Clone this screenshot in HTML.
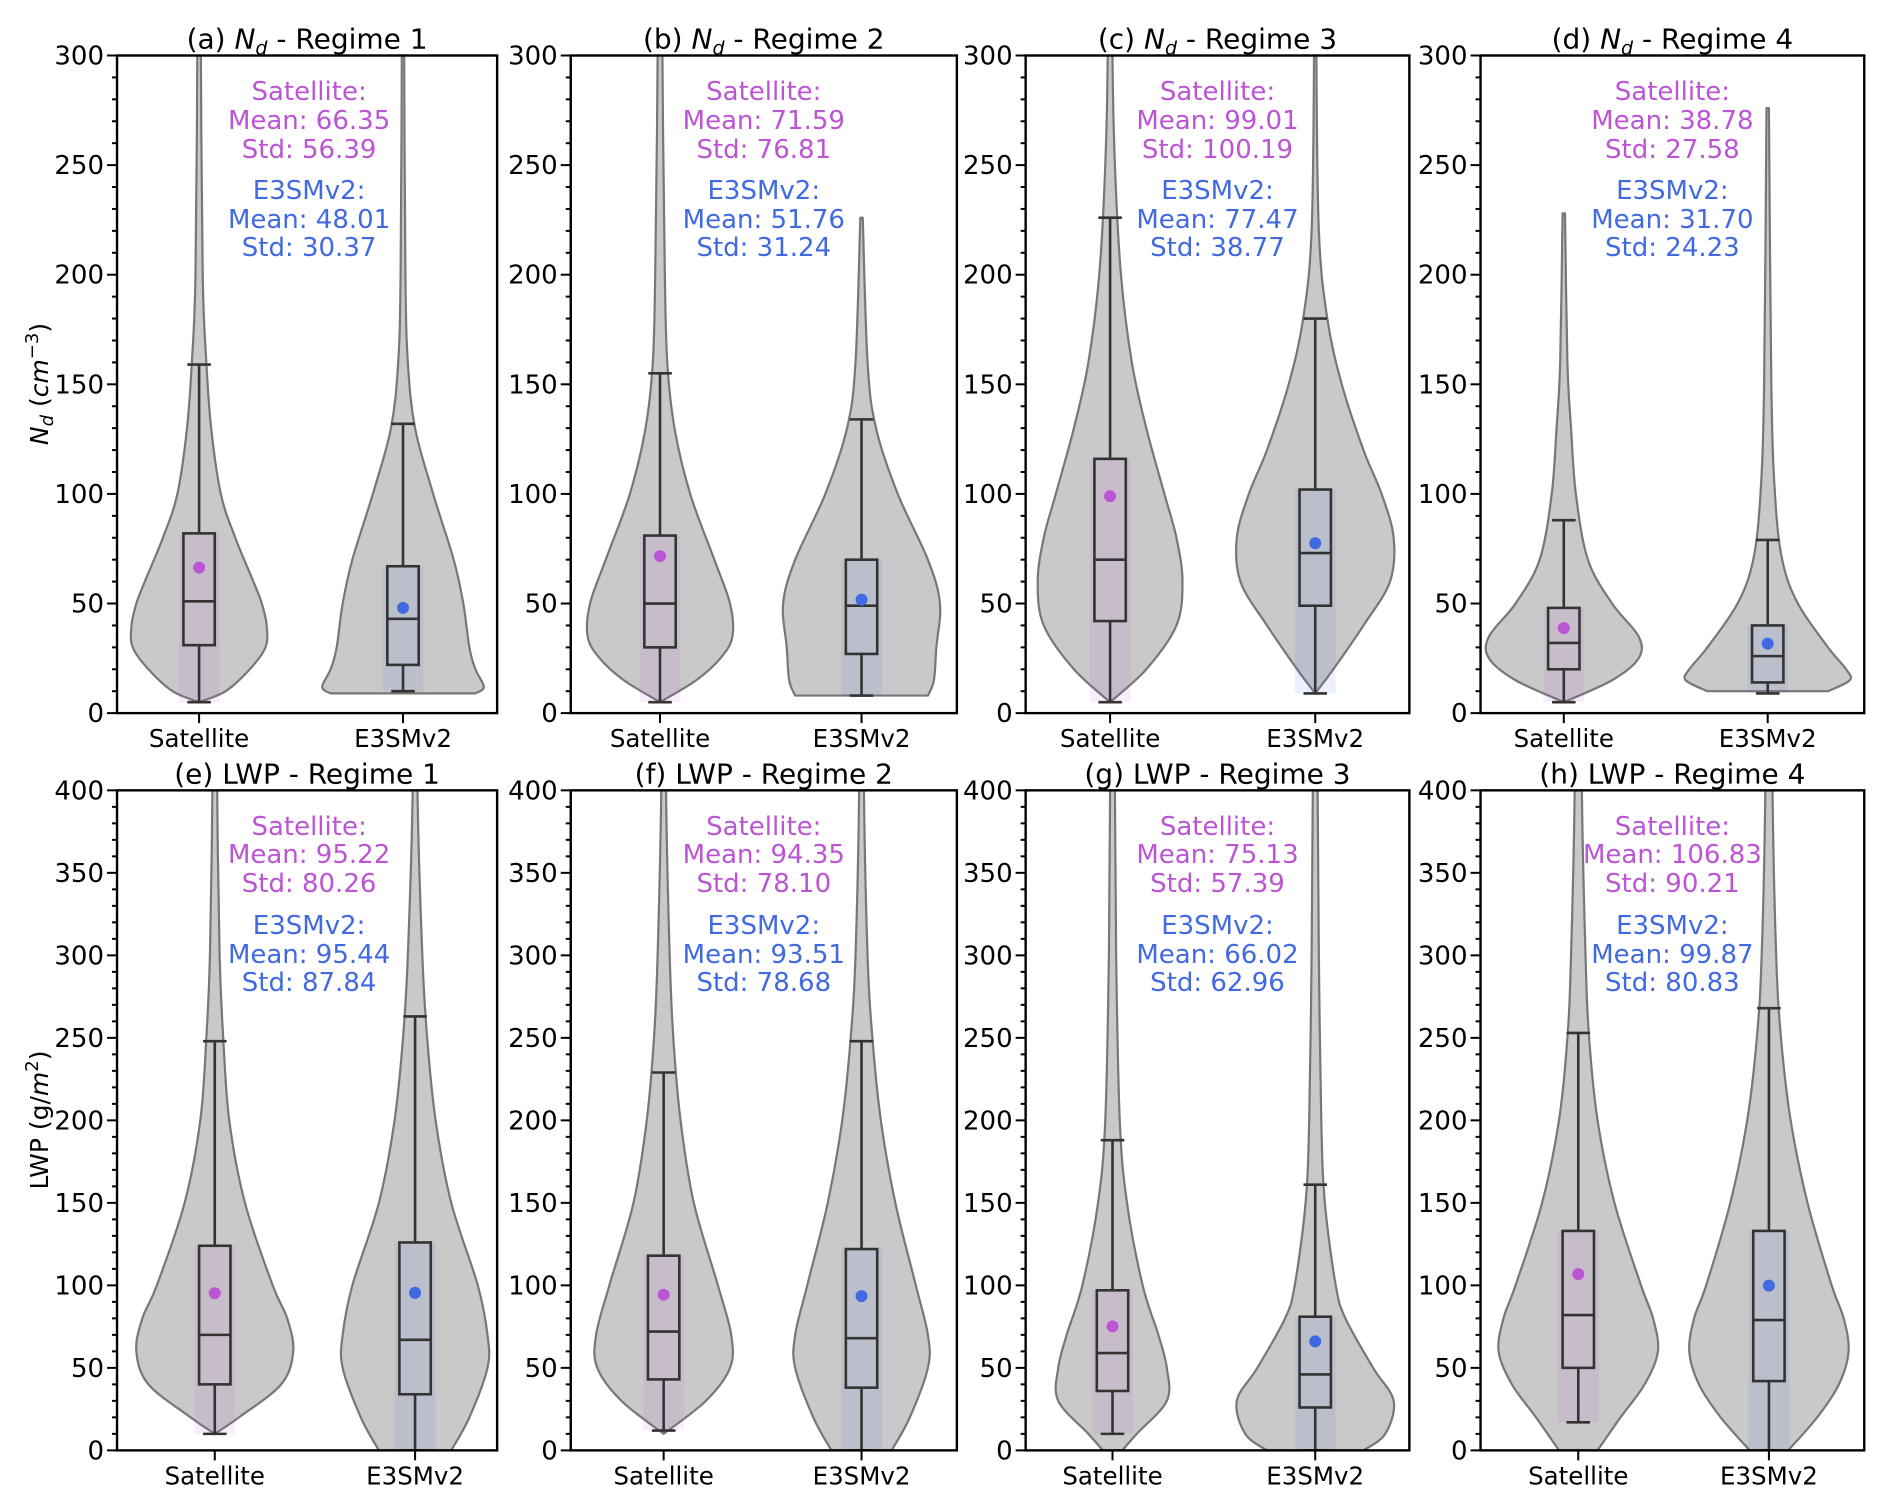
<!DOCTYPE html>
<html><head><meta charset="utf-8"><style>
html,body{margin:0;padding:0;background:#fff;}
svg text{font-family:"DejaVu Sans","Liberation Sans",sans-serif;}
</style></head><body>
<svg id="fig" width="1892" height="1507" viewBox="0 0 1892 1507" xmlns="http://www.w3.org/2000/svg"></svg>
<script>
// ---- data ----
const panelTitles = ["(a) N_d - Regime 1","(b) N_d - Regime 2","(c) N_d - Regime 3","(d) N_d - Regime 4",
  "(e) LWP - Regime 1","(f) LWP - Regime 2","(g) LWP - Regime 3","(h) LWP - Regime 4"];
const categories = ["Satellite","E3SMv2"];
const satMean = [66.35,71.59,99.01,38.78,95.22,94.35,75.13,106.83];
const satStd  = [56.39,76.81,100.19,27.58,80.26,78.10,57.39,90.21];
const modMean = [48.01,51.76,77.47,31.70,95.44,93.51,66.02,99.87];
const modStd  = [30.37,31.24,38.77,24.23,87.84,78.68,62.96,80.83];
// box stats: [low whisker, q1, median, q3, high whisker]
const satBox = [[5,31,51,82,159],[5,30,50,81,155],[5,42,70,116,226],[5,20,32,48,88],
  [10,40,70,124,248],[12,43,72,118,229],[10,36,59,97,188],[17,50,82,133,253]];
const modBox = [[10,22,43,67,132],[8,27,49,70,134],[9,49,73,102,180],[9,14,26,40,79],
  [0,34,67,126,263],[0,38,68,122,248],[0,26,46,81,161],[0,42,79,133,268]];
// violin profiles: values and relative half-widths
const satVals = [[5,10,20,30,40,50,60,80,100,130,160,200,300,400],[5,15,25,35,50,70,100,130,160,200,300,400],
  [5,20,40,60,80,100,130,160,200,250,300,400],[5,15,25,35,50,70,100,130,160,228],
  [10,20,40,60,80,100,150,200,250,300,400,500],[10,30,50,70,100,150,200,250,300,400,500],
  [0,10,30,50,70,100,150,200,300,400,500],[0,20,40,60,80,100,150,200,250,300,400,500]];
const satDens = [[0,22,42,55,56,52,45,30,18,10,6,3,1.5,1.5],[0,30,50,60,58,45,25,12,6,4,2,2],
  [0,30,55,60,55,45,30,18,9,4,2,2],[0,40,62,62,40,20,10,6,3,1],
  [0,20,55,65,60,48,25,12,7,4,2,2],[0,35,55,56,45,25,14,8,5,2,2],
  [8,20,45,45,38,25,12,6,3,2,2],[16,35,55,66,62,52,30,16,9,6,3,3]];
const modVals = [[9,12,20,30,50,70,100,130,160,200,300,400],[8,15,30,50,70,100,130,160,226],
  [9,20,40,60,80,100,120,150,180,220,300,400],[10,15,20,30,50,70,100,150,276],
  [0,20,50,70,100,150,200,250,300,400,500],[0,20,50,70,100,150,200,250,300,400,500],
  [0,10,30,50,80,100,150,200,300,400,500],[0,20,40,60,80,100,150,200,250,300,400,500]];
const modDens = [[60,67,60,55,50,42,25,10,4,2,1,1],[55,60,62,65,55,30,12,5,1],
  [0,15,40,62,65,55,40,22,10,3,1,1],[50,68,65,50,25,12,6,3,1],
  [30,45,60,60,52,30,17,10,6,2,2],[25,40,55,55,45,28,16,9,5,2,2],
  [40,58,65,48,25,17,8,5,3,2,2],[16,40,58,66,62,52,32,18,10,6,3,3]];
const yMax = [300,300,300,300,400,400,400,400];
const majorStep = [50,50,50,50,50,50,50,50];
// ---- layout (display coords scaled) ----
const S = 1892/1568;
const lefts=[97,473,850,1227], rights=[412,793,1168,1545];
const satX=[165,547,920,1296,178,550,922,1308], modX=[334,714,1090,1465,344,714,1090,1466];
const tops=[46,655], bots=[591,1202];
const svg=document.getElementById('fig');
const NS="http://www.w3.org/2000/svg";
function el(tag,attrs,parent){const e=document.createElementNS(NS,tag);for(const k in attrs)e.setAttribute(k,attrs[k]);(parent||svg).appendChild(e);return e;}
function smooth(pts){
  let d='M'+pts[0][0]+','+pts[0][1];
  for(let i=0;i<pts.length-1;i++){
    const p0=pts[Math.max(i-1,0)],p1=pts[i],p2=pts[i+1],p3=pts[Math.min(i+2,pts.length-1)];
    const c1=[p1[0]+(p2[0]-p0[0])/6,p1[1]+(p2[1]-p0[1])/6];
    const c2=[p2[0]-(p3[0]-p1[0])/6,p2[1]-(p3[1]-p1[1])/6];
    d+=' C'+c1[0]+','+c1[1]+' '+c2[0]+','+c2[1]+' '+p2[0]+','+p2[1];
  }
  return d;
}
const PURPLE="#bb55d3", BLUE="#4169e1";
const defs=el('defs',{});
for(let p=0;p<8;p++){
  const row=p<4?0:1, col=p%4;
  const x0=lefts[col]*S, x1=rights[col]*S, y0=tops[row]*S, y1=bots[row]*S;
  const ys=v=>y1-(v/yMax[p])*(y1-y0);
  const g=el('g',{});
  
  
  const cp=el('clipPath',{id:'cp'+p},defs);
  el('rect',{x:x0,y:y0,width:x1-x0,height:y1-y0},cp);
  const inner=el('g',{'clip-path':'url(#cp'+p+')'},g);
  const series=[[satX[p]*S,satVals[p],satDens[p],satBox[p],satMean[p],PURPLE,'satellite'],
                [modX[p]*S,modVals[p],modDens[p],modBox[p],modMean[p],BLUE,'e3smv2']];
  series.forEach(([cx,vals,dens,box,mean,col,nm])=>{
    let r=[],l=[];
    for(let i=0;i<vals.length;i++){const w=dens[i]*S;r.push([cx+w,ys(vals[i])]);l.unshift([cx-w,ys(vals[i])]);}
    const dR=smooth(r), dL=smooth(l);
    const vp=el('path',{d:dR+' L'+l[0][0]+','+l[0][1]+dL.replace(/^M[^C]*/,' ')+' Z',fill:'#c9c9c9',stroke:'#777','stroke-width':2.2,'stroke-linejoin':'round'},inner);
    
    
    const bw=13*S;
    const sc=el('rect',{x:cx-bw*1.3,y:ys(box[3]),width:2.6*bw,height:ys(box[0])-ys(box[3]),fill:col,opacity:0.10},inner);
    
    
    const bg=el('g',{stroke:'#333','stroke-width':2.6,fill:'none'},inner);
    
    
    el('line',{x1:cx,x2:cx,y1:ys(box[0]),y2:ys(box[1])},bg);
    el('line',{x1:cx,x2:cx,y1:ys(box[3]),y2:ys(box[4])},bg);
    el('line',{x1:cx-bw*0.75,x2:cx+bw*0.75,y1:ys(box[0]),y2:ys(box[0])},bg);
    el('line',{x1:cx-bw*0.75,x2:cx+bw*0.75,y1:ys(box[4]),y2:ys(box[4])},bg);
    el('rect',{x:cx-bw,y:ys(box[3]),width:2*bw,height:ys(box[1])-ys(box[3])},bg);
    el('line',{x1:cx-bw,x2:cx+bw,y1:ys(box[2]),y2:ys(box[2])},bg);
    const m=el('circle',{cx:cx,cy:ys(mean),r:6,fill:col},inner);
    
    
  });
  el('rect',{x:x0,y:y0,width:x1-x0,height:y1-y0,fill:'none',stroke:'#000','stroke-width':2.4},g);
  for(let v=0;v<=yMax[p];v+=10){
    const maj=v%majorStep[p]===0;
    el('line',{x1:x0,x2:x0-(maj?10:5),y1:ys(v),y2:ys(v),stroke:'#000','stroke-width':2},g);
    if(maj){const t=el('text',{x:x0-13,y:ys(v)+9,'text-anchor':'end','font-size':26,fill:'#000'},g);t.textContent=v;
      
      }
  }
  [[satX[p]*S,categories[0]],[modX[p]*S,categories[1]]].forEach(([cx,lab])=>{
    el('line',{x1:cx,x2:cx,y1:y1,y2:y1+10,stroke:'#000','stroke-width':2},g);
    const t=el('text',{x:cx,y:y1+34,'text-anchor':'middle','font-size':24.5,fill:'#000'},g);t.textContent=lab;
    
    
  });
  const tt=el('text',{x:(x0+x1)/2,y:y0-7,'text-anchor':'middle','font-size':28,fill:'#000'},g);
  
  
  const parts=panelTitles[p].split('N_d');
  if(parts.length===2){
    tt.appendChild(document.createTextNode(parts[0]));
    const n=el('tspan',{'font-style':'italic'},tt);n.textContent='N';
    const d=el('tspan',{'font-style':'italic','font-size':19,dy:6},tt);d.textContent='d';
    const r=el('tspan',{dy:-6},tt);r.textContent=parts[1];
  } else tt.textContent=panelTitles[p];
  const ax=(x0+x1)/2+ (col===0?2:0);
  const base=row===0?[90,119,148,189,218,246]:[825,853,882,924,953,981];
  const lines=[['Satellite:',PURPLE],['Mean: '+satMean[p].toFixed(2),PURPLE],['Std: '+satStd[p].toFixed(2),PURPLE],
               ['E3SMv2:',BLUE],['Mean: '+modMean[p].toFixed(2),BLUE],['Std: '+modStd[p].toFixed(2),BLUE]];
  lines.forEach(([s,c],i)=>{const t=el('text',{x:ax,y:base[i]+10,'text-anchor':'middle','font-size':26,fill:c},g);t.textContent=s;
    
    });
}
const yl1=el('text',{transform:'translate(48,384) rotate(-90)','text-anchor':'middle','font-size':25,fill:'#000'});


yl1.innerHTML='<tspan font-style="italic">N</tspan><tspan font-style="italic" font-size="18" dy="5">d</tspan><tspan dy="-5"> (</tspan><tspan font-style="italic">cm</tspan><tspan font-size="18" dy="-10">−3</tspan><tspan dy="10">)</tspan>';
const yl2=el('text',{transform:'translate(48,1120) rotate(-90)','text-anchor':'middle','font-size':25,fill:'#000'});


yl2.innerHTML='LWP (g/<tspan font-style="italic">m</tspan><tspan font-size="18" dy="-10">2</tspan><tspan dy="10">)</tspan>';
</script>
</body></html>
